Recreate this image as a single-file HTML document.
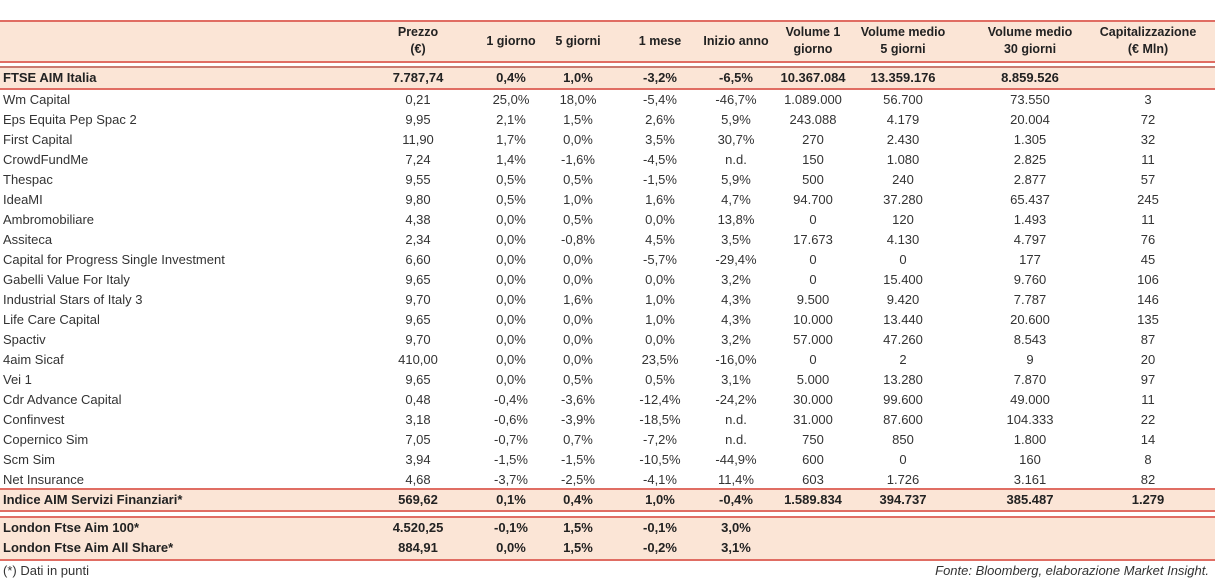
<!DOCTYPE html>
<html><head><meta charset="utf-8"><style>
body{margin:0;width:1215px;height:581px;background:#fff;font-family:"Liberation Sans",sans-serif;color:#333;position:relative;overflow:hidden}
.band{position:absolute;left:0;width:1215px;background:#fbe5d6}
.ln{position:absolute;left:0;width:1215px;height:2px;background:#e06d63}
.t{position:absolute;font-size:13px;white-space:nowrap;line-height:20px}
.b{font-weight:bold;color:#222}
.c{transform:translateX(-50%);text-align:center}
.h{font-size:12.5px;font-weight:bold;line-height:17px;transform:translateX(-50%);text-align:center;color:#222}
</style></head><body>
<div class="band" style="top:22px;height:40px"></div>
<div class="band" style="top:68px;height:21px"></div>
<div class="band" style="top:490px;height:20px"></div>
<div class="band" style="top:518px;height:42px"></div>
<div class="ln" style="top:20px"></div>
<div class="ln" style="top:61px"></div>
<div class="ln" style="top:66px;background:#c97a6f"></div>
<div class="ln" style="top:88px"></div>
<div class="ln" style="top:488px"></div>
<div class="ln" style="top:510px"></div>
<div class="ln" style="top:516px"></div>
<div class="ln" style="top:559px"></div>
<div id="tbl"></div>
<div class="t" style="left:3px;top:561px">(*) Dati in punti</div>
<div class="t" style="right:6px;top:561px;font-style:italic">Fonte: Bloomberg, elaborazione Market Insight.</div>
<script>
const colX=[418,511,578,660,736,813,903,1030,1148];
const headers=["Prezzo<br>(€)","1 giorno","5 giorni","1 mese","Inizio anno","Volume 1<br>giorno","Volume medio<br>5 giorni","Volume medio<br>30 giorni","Capitalizzazione<br>(€ Mln)"];
const rows=[
["FTSE AIM Italia","7.787,74","0,4%","1,0%","-3,2%","-6,5%","10.367.084","13.359.176","8.859.526",""],
["Wm Capital","0,21","25,0%","18,0%","-5,4%","-46,7%","1.089.000","56.700","73.550","3"],
["Eps Equita Pep Spac 2","9,95","2,1%","1,5%","2,6%","5,9%","243.088","4.179","20.004","72"],
["First Capital","11,90","1,7%","0,0%","3,5%","30,7%","270","2.430","1.305","32"],
["CrowdFundMe","7,24","1,4%","-1,6%","-4,5%","n.d.","150","1.080","2.825","11"],
["Thespac","9,55","0,5%","0,5%","-1,5%","5,9%","500","240","2.877","57"],
["IdeaMI","9,80","0,5%","1,0%","1,6%","4,7%","94.700","37.280","65.437","245"],
["Ambromobiliare","4,38","0,0%","0,5%","0,0%","13,8%","0","120","1.493","11"],
["Assiteca","2,34","0,0%","-0,8%","4,5%","3,5%","17.673","4.130","4.797","76"],
["Capital for Progress Single Investment","6,60","0,0%","0,0%","-5,7%","-29,4%","0","0","177","45"],
["Gabelli Value For Italy","9,65","0,0%","0,0%","0,0%","3,2%","0","15.400","9.760","106"],
["Industrial Stars of Italy 3","9,70","0,0%","1,6%","1,0%","4,3%","9.500","9.420","7.787","146"],
["Life Care Capital","9,65","0,0%","0,0%","1,0%","4,3%","10.000","13.440","20.600","135"],
["Spactiv","9,70","0,0%","0,0%","0,0%","3,2%","57.000","47.260","8.543","87"],
["4aim Sicaf","410,00","0,0%","0,0%","23,5%","-16,0%","0","2","9","20"],
["Vei 1","9,65","0,0%","0,5%","0,5%","3,1%","5.000","13.280","7.870","97"],
["Cdr Advance Capital","0,48","-0,4%","-3,6%","-12,4%","-24,2%","30.000","99.600","49.000","11"],
["Confinvest","3,18","-0,6%","-3,9%","-18,5%","n.d.","31.000","87.600","104.333","22"],
["Copernico Sim","7,05","-0,7%","0,7%","-7,2%","n.d.","750","850","1.800","14"],
["Scm Sim","3,94","-1,5%","-1,5%","-10,5%","-44,9%","600","0","160","8"],
["Net Insurance","4,68","-3,7%","-2,5%","-4,1%","11,4%","603","1.726","3.161","82"],
["Indice AIM Servizi Finanziari*","569,62","0,1%","0,4%","1,0%","-0,4%","1.589.834","394.737","385.487","1.279"],
["London Ftse Aim 100*","4.520,25","-0,1%","1,5%","-0,1%","3,0%","","","",""],
["London Ftse Aim All Share*","884,91","0,0%","1,5%","-0,2%","3,1%","","","",""]
];
const rowY=[];
for(let i=0;i<rows.length;i++)rowY.push(i==0?68:(i<21?90+(i-1)*20:(i==21?490:(i==22?518:538))));
const tbl=document.getElementById('tbl');
headers.forEach((h,j)=>{
  const d=document.createElement('div');
  d.className='t h';
  
  
  d.innerHTML=h;
  d.style.left=colX[j]+'px';
  d.style.top=(h.includes('<br>')?24:33)+'px';
  tbl.appendChild(d);
});
rows.forEach((r,i)=>{
  const bold=(i==0||i>=21);
  r.forEach((v,j)=>{
    if(!v)return;
    const d=document.createElement('div');
    d.className='t'+(bold?' b':'')+(j>0?' c':'');
    
    
    d.textContent=v;
    d.style.left=(j==0?3:colX[j-1])+'px';
    d.style.top=rowY[i]+'px';
    tbl.appendChild(d);
  });
});
</script>
</body></html>
